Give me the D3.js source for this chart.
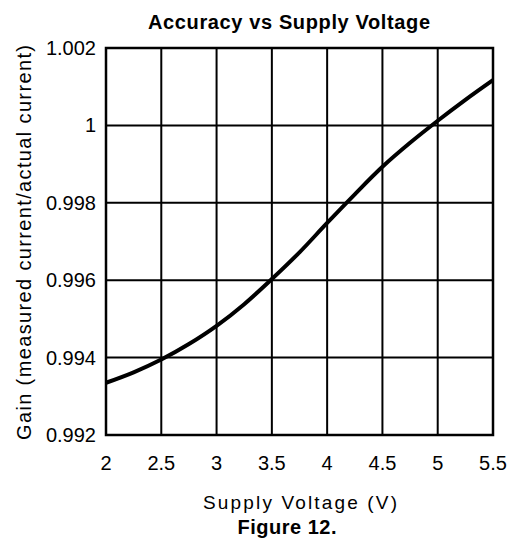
<!DOCTYPE html>
<html lang="en">
<head>
<meta charset="utf-8" />
<script src="https://d3js.org/d3.v7.min.js"></script>
<title>Accuracy vs Supply Voltage</title>
<style>
    body { margin: 0; background: #fff; }
    .tick-label { font-family: 'Liberation Sans', Arial, sans-serif; font-size: 20px; fill: #000; }
    .bold { font-family: 'Liberation Sans', Arial, sans-serif; font-weight: bold; font-size: 20px; fill: #000; }
</style>
</head>
<body>
<div id="chart"></div>
<script>
// data
var voltage = [2, 2.25, 2.5, 2.75, 3, 3.25, 3.5, 3.75, 4, 4.25, 4.5, 4.75, 5, 5.25, 5.5];
var gain = [0.99335, 0.99362, 0.99395, 0.99435, 0.99482, 0.99538, 0.99603, 0.99672, 0.99748,
            0.99822, 0.99893, 0.99955, 1.00012, 1.00066, 1.00117];
var xTicks = [2, 2.5, 3, 3.5, 4, 4.5, 5, 5.5];
var yTicks = [0.992, 0.994, 0.996, 0.998, 1, 1.002];
var yTickLabels = ["0.992", "0.994", "0.996", "0.998", "1", "1.002"];

var width = 511, height = 542;
var margin = { left: 106, right: 18, top: 48, bottom: 107 };

var svg = d3.select("#chart").append("svg")
    .attr("width", width)
    .attr("height", height);

var x = d3.scaleLinear().domain([2, 5.5]).range([margin.left, width - margin.right]);
var y = d3.scaleLinear().domain([0.992, 1.002]).range([height - margin.bottom, margin.top]);

// grid
svg.append("g").selectAll("line.v")
    .data(xTicks)
    .enter().append("line")
    .attr("x1", function(d) { return x(d); })
    .attr("x2", function(d) { return x(d); })
    .attr("y1", y(0.992))
    .attr("y2", y(1.002))
    .attr("stroke", "#000")
    .attr("stroke-width", 2);

svg.append("g").selectAll("line.h")
    .data(yTicks)
    .enter().append("line")
    .attr("x1", x(2))
    .attr("x2", x(5.5))
    .attr("y1", function(d) { return y(d); })
    .attr("y2", function(d) { return y(d); })
    .attr("stroke", "#000")
    .attr("stroke-width", 2);

// frame
svg.append("rect")
    .attr("x", x(2))
    .attr("y", y(1.002))
    .attr("width", x(5.5) - x(2))
    .attr("height", y(0.992) - y(1.002))
    .attr("fill", "none")
    .attr("stroke", "#000")
    .attr("stroke-width", 2.5);

// curve
var line = d3.line()
    .x(function(d, i) { return x(voltage[i]); })
    .y(function(d) { return y(d); })
    .curve(d3.curveMonotoneX);

svg.append("path")
    .datum(gain)
    .attr("d", line)
    .attr("fill", "none")
    .attr("stroke", "#000")
    .attr("stroke-width", 4);

// tick labels
svg.append("g").selectAll("text")
    .data(xTicks)
    .enter().append("text")
    .attr("class", "tick-label")
    .attr("x", function(d) { return x(d); })
    .attr("y", y(0.992) + 35)
    .attr("text-anchor", "middle")
    .text(function(d) { return d; });

svg.append("g").selectAll("text")
    .data(yTicks)
    .enter().append("text")
    .attr("class", "tick-label")
    .attr("x", x(2) - 10)
    .attr("y", function(d) { return y(d) + 7; })
    .attr("text-anchor", "end")
    .text(function(d, i) { return yTickLabels[i]; });

// titles
svg.append("text")
    .attr("class", "bold")
    .attr("x", 289)
    .attr("y", 29)
    .attr("text-anchor", "middle")
    .attr("textLength", 282)
    .attr("lengthAdjust", "spacing")
    .text("Accuracy vs Supply Voltage");

svg.append("text")
    .attr("class", "tick-label")
    .attr("x", 300)
    .attr("y", 509)
    .attr("text-anchor", "middle")
    .attr("textLength", 194)
    .attr("lengthAdjust", "spacing")
    .style("font-size", "19px")
    .text("Supply Voltage (V)");

svg.append("text")
    .attr("class", "bold")
    .attr("x", 287)
    .attr("y", 534)
    .attr("text-anchor", "middle")
    .attr("textLength", 99)
    .attr("lengthAdjust", "spacing")
    .text("Figure 12.");

svg.append("text")
    .attr("class", "tick-label")
    .attr("transform", "translate(31," + ((y(0.992) + y(1.002)) / 2 + 1) + ") rotate(-90)")
    .attr("text-anchor", "middle")
    .attr("textLength", 395)
    .attr("lengthAdjust", "spacing")
    .text("Gain (measured current/actual current)");
</script>
</body>
</html>
